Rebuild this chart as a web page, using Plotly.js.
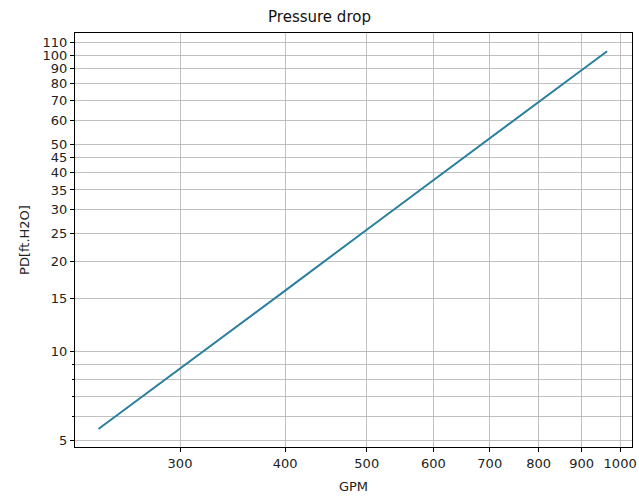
<!DOCTYPE html>
<html>
<head>
<meta charset="utf-8">
<script src="https://cdn.plot.ly/plotly-3.0.1.min.js"></script>
<style>html,body{margin:0;padding:0;background:#fff;}#chart{width:639px;height:500px;}</style>
</head>
<body>
<div id="chart"></div>
<script>
// Data
var gpm = [240, 300, 400, 500, 600, 700, 800, 900, 965];
var pressureDrop = [5.45, 8.7, 16.0, 25.7, 37.8, 52.3, 69.3, 88.9, 103];

// Tick labels
var xTicks = [300, 400, 500, 600, 700, 800, 900, 1000];
var xTickText = ['300', '400', '500', '600', '700', '800', '900', '1000'];
var yTicks = [5, 10, 15, 20, 25, 30, 35, 40, 45, 50, 60, 70, 80, 90, 100, 110];
var yTickText = ['5', '10', '15', '20', '25', '30', '35', '40', '45', '50', '60', '70', '80', '90', '100', '110'];
var yMinorTicks = [6, 7, 8, 9];

var font = 'DejaVu Sans, sans-serif';

var trace = {
  x: gpm, y: pressureDrop, type: 'scatter', mode: 'lines',
  line: {color: '#2a7f9e', width: 2}, hoverinfo: 'skip'
};

var layout = {
  width: 639, height: 500,
  margin: {l: 75, r: 7, t: 33, b: 53},
  paper_bgcolor: '#fff', plot_bgcolor: '#fff',
  showlegend: false,
  title: {text: 'Pressure drop', font: {family: font, size: 15, color: '#111'}, x: 0.5, xanchor: 'center', y: 0.966, yanchor: 'middle'},
  xaxis: {
    type: 'log', range: [Math.log10(225.1), Math.log10(1033)],
    tickmode: 'array', tickvals: xTicks, ticktext: xTickText,
    ticks: 'outside', ticklen: 4, tickwidth: 1, tickcolor: '#000',
    tickfont: {family: font, size: 13, color: '#222'},
    showgrid: true, gridcolor: '#b0b0b0', gridwidth: 0.8,
    showline: true, linecolor: '#000', linewidth: 1, mirror: true,
    zeroline: false,
    title: {text: 'GPM', font: {family: font, size: 13, color: '#222'}, standoff: 12}
  },
  yaxis: {
    type: 'log', range: [Math.log10(4.74), Math.log10(118.7)],
    tickmode: 'array', tickvals: yTicks, ticktext: yTickText,
    ticks: 'outside', ticklen: 4, tickwidth: 1, tickcolor: '#000',
    tickfont: {family: font, size: 13, color: '#222'},
    showgrid: true, gridcolor: '#b0b0b0', gridwidth: 0.8,
    showline: true, linecolor: '#000', linewidth: 1, mirror: true,
    zeroline: false,
    minor: {tickmode: 'array', tickvals: yMinorTicks, ticks: 'outside', ticklen: 2, tickcolor: '#000', showgrid: true, gridcolor: '#b0b0b0', gridwidth: 0.8},
    title: {text: 'PD[ft.H2O]', font: {family: font, size: 13, color: '#222'}, standoff: 10}
  }
};

Plotly.newPlot('chart', [trace], layout, {displayModeBar: false, staticPlot: true});
</script>
</body>
</html>
